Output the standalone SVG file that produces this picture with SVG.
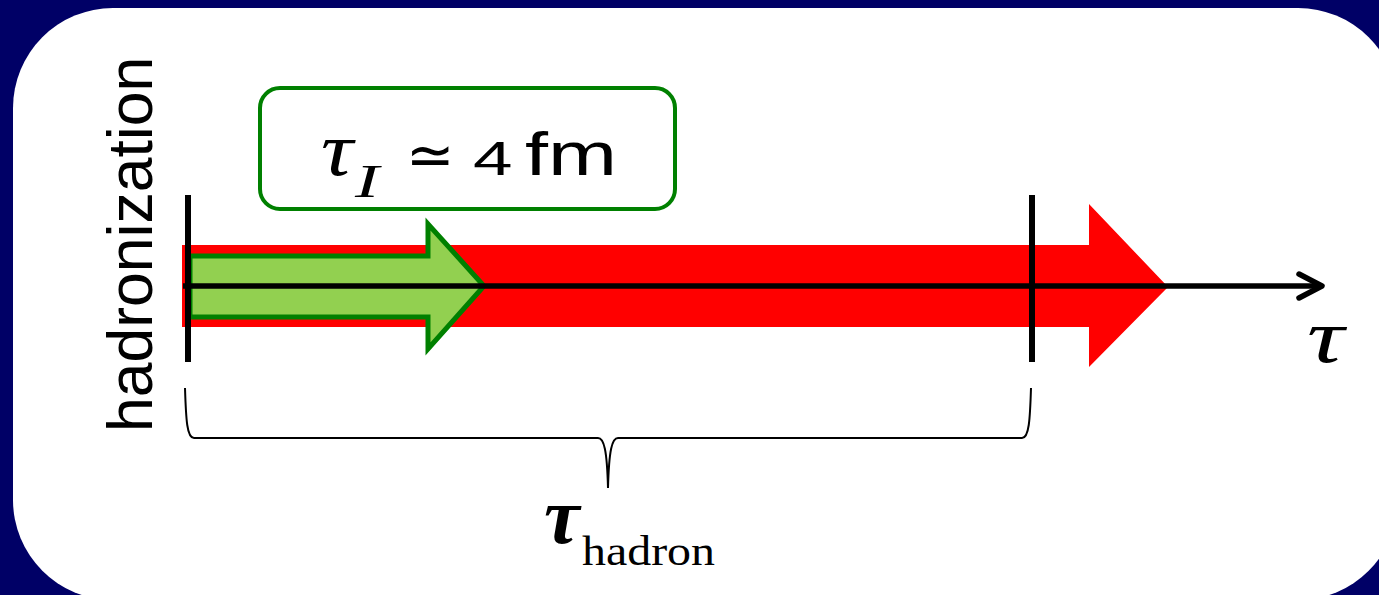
<svg xmlns="http://www.w3.org/2000/svg" width="1379" height="595" viewBox="0 0 1379 595">
<style>
.serif{font-family:"Liberation Serif","Times New Roman",serif;font-style:italic;fill:#000}
.sans{font-family:"Liberation Sans",Arial,sans-serif;fill:#000}
.bar{stroke:#000;stroke-width:6;fill:none}
</style>
<rect x="0" y="0" width="1379" height="595" fill="#000066"/>
<rect x="13" y="8" width="1385" height="592" rx="100" ry="100" fill="#ffffff"/>
<g id="label-hadronization">
<text class="sans" font-size="62.5" transform="translate(152,432) rotate(-90)">hadronization</text>
</g>
<g id="tau-box">
<rect x="260" y="88" width="415" height="121" rx="20" ry="20" fill="#fff" stroke="#008000" stroke-width="4"/>
<text class="serif" x="321" y="175" font-size="76" textLength="32" lengthAdjust="spacingAndGlyphs">τ</text>
<text class="serif" x="355" y="197" font-size="46" textLength="24" lengthAdjust="spacingAndGlyphs">I</text>
<text x="406" y="175" font-size="58" font-family="DejaVu Sans,sans-serif">≃</text>
<text class="sans" font-size="49" transform="translate(473,175) scale(1.45,1)">4</text>
<text class="sans" x="525" y="175" font-size="62" textLength="92" lengthAdjust="spacingAndGlyphs">fm</text>
</g>
<g id="red-arrow">
<polygon points="182,245 1089,245 1089,204 1168,287 1089,367 1089,327 182,327" fill="#ff0000"/>
</g>
<g id="green-arrow">
<polygon points="190,256 428,256 428,224 484,286 428,349 428,317 190,317" fill="#92d050" stroke="#008000" stroke-width="5"/>
</g>
<g id="connectors">
<line x1="183" y1="286" x2="1321" y2="286" stroke="#000" stroke-width="5.5"/>
<polyline points="1299,274 1322,286 1299,298" fill="none" stroke="#000" stroke-width="5.5" stroke-linecap="round" stroke-linejoin="round"/>
<line class="bar" x1="188" y1="195" x2="188" y2="362"/>
<line class="bar" x1="1032" y1="195" x2="1032" y2="362"/>
<path d="M185,388 C186,420 187,438 194,438 L598,438 C604,438 607,450 608,488 C609,450 612,438 618,438 L1022,438 C1029,438 1030,420 1031,388" fill="none" stroke="#000" stroke-width="2"/>
</g>
<g id="label-tau-axis">
<text class="serif" x="1307" y="362" font-size="76" textLength="37" lengthAdjust="spacingAndGlyphs">τ</text>
</g>
<g id="label-tau-hadron">
<text class="serif" x="544" y="543" font-size="80" font-weight="bold">τ</text>
<text x="582" y="565" font-size="42" font-family="Liberation Serif,'Times New Roman',serif" textLength="133" lengthAdjust="spacingAndGlyphs">hadron</text>
</g>
</svg>
